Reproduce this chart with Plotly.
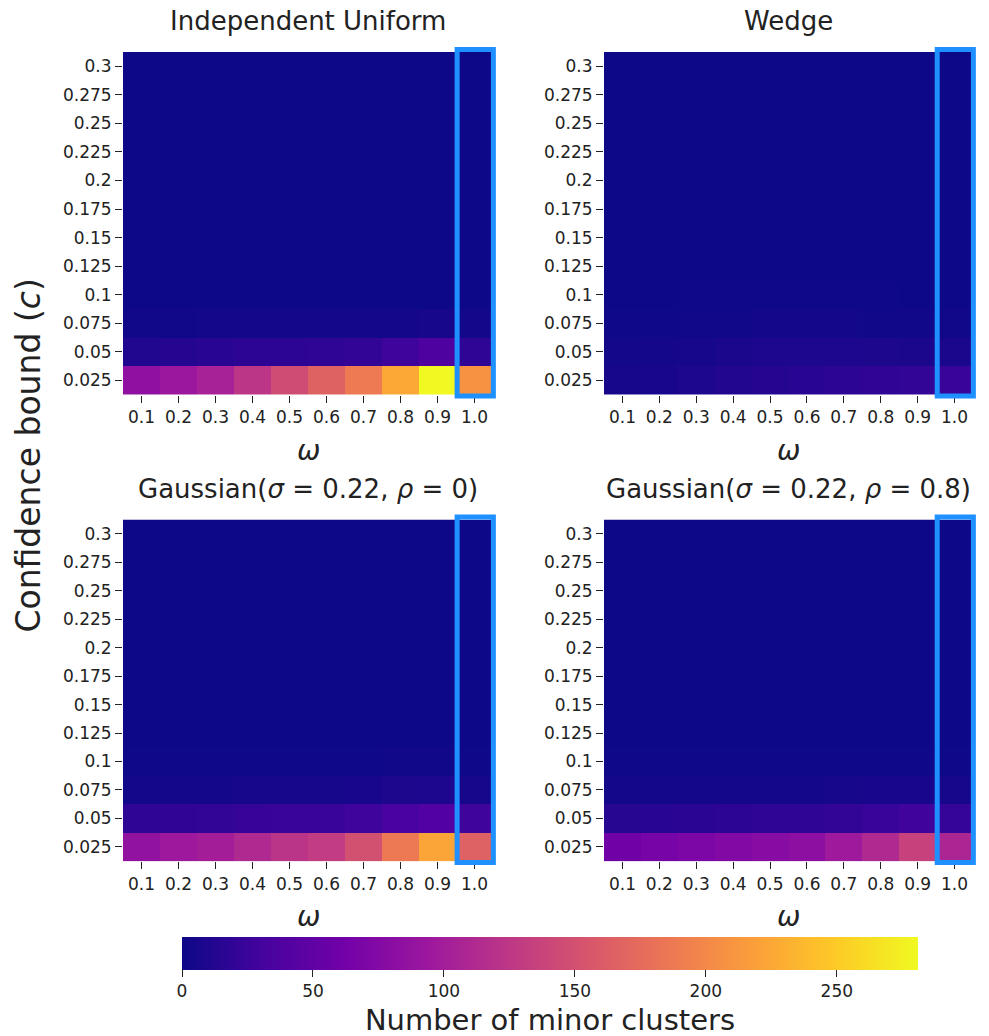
import plotly.graph_objects as go

# Grid axes
omega = [0.1, 0.2, 0.3, 0.4, 0.5, 0.6, 0.7, 0.8, 0.9, 1.0]
conf = [0.025, 0.05, 0.075, 0.1, 0.125, 0.15, 0.175, 0.2, 0.225, 0.25, 0.275, 0.3]
omega_labels = ["0.1", "0.2", "0.3", "0.4", "0.5", "0.6", "0.7", "0.8", "0.9", "1.0"]
conf_labels = ["0.025", "0.05", "0.075", "0.1", "0.125", "0.15", "0.175", "0.2",
               "0.225", "0.25", "0.275", "0.3"]

# Number of minor clusters, rows ordered from c=0.025 upward
indep_uniform = [
    [84, 93, 104, 124, 146, 166, 188, 225, 281, 208],
    [11, 13, 15, 17, 17, 18, 21, 27, 37, 18],
    [2, 2, 3, 3, 3, 3, 4, 4, 5, 3],
] + [[0] * 10 for _ in range(9)]

wedge = [
    [5, 6, 9, 12, 13, 15, 17, 19, 21, 24],
    [3, 4, 5, 7, 9, 9, 9, 8, 7, 7],
    [1, 1, 2, 2, 3, 3, 3, 2, 2, 2],
    [0, 0, 1, 1, 1, 1, 1, 1, 0, 0],
] + [[0] * 10 for _ in range(8)]

gauss_rho0 = [
    [86, 95, 100, 112, 122, 130, 150, 186, 222, 165],
    [18, 19, 21, 23, 24, 24, 27, 33, 40, 27],
    [3, 4, 4, 5, 5, 5, 6, 8, 9, 5],
    [1, 1, 1, 1, 1, 1, 1, 2, 2, 1],
] + [[0] * 10 for _ in range(8)]

gauss_rho08 = [
    [60, 66, 70, 74, 78, 82, 96, 112, 136, 108],
    [14, 15, 16, 17, 18, 18, 20, 24, 28, 22],
    [3, 3, 4, 4, 4, 4, 5, 6, 6, 5],
    [1, 1, 1, 1, 1, 1, 1, 1, 1, 1],
] + [[0] * 10 for _ in range(8)]

panels = [
    ("Independent Uniform", indep_uniform),
    ("Wedge", wedge),
    ("Gaussian(<i>σ</i> = 0.22, <i>ρ</i> = 0)", gauss_rho0),
    ("Gaussian(<i>σ</i> = 0.22, <i>ρ</i> = 0.8)", gauss_rho08),
]

W, H = 989, 1036
xdoms = [(123 / W, 493 / W), (604 / W, 973 / W)]
ydoms = [(1 - 395 / H, 1 - 52 / H), (1 - 862 / H, 1 - 520 / H)]

FONT = "DejaVu Sans"
TEXT = "#222222"
vmax = max(max(r) for _, d in panels for r in d)

fig = go.Figure()
annotations = []
shapes = []
nx, ny = len(omega), len(conf)
xi = list(range(nx))
yi = list(range(ny))


def to_paper(v, dom, n):
    # data index (cell centres at integers) -> paper fraction inside the domain
    return dom[0] + (v + 0.5) / n * (dom[1] - dom[0])


for k, (title, data) in enumerate(panels):
    row, col = divmod(k, 2)
    n = k + 1
    xa = "x" if n == 1 else f"x{n}"
    ya = "y" if n == 1 else f"y{n}"
    fig.add_trace(go.Heatmap(
        z=data, x=xi, y=yi, coloraxis="coloraxis",
        xaxis=xa, yaxis=ya, xgap=0, ygap=0,
        hovertemplate="ω=%{x}<br>c=%{y}<br>%{z}<extra></extra>",
    ))
    xd, yd = xdoms[col], ydoms[row]
    axx = dict(domain=list(xd), anchor=ya, range=[-0.5, nx - 0.5],
               tickmode="array", tickvals=xi, ticktext=omega_labels,
               ticks="outside", ticklen=7, tickwidth=1.2, tickcolor=TEXT,
               showgrid=False, zeroline=False, showline=False,
               tickfont=dict(family=FONT, size=17, color=TEXT))
    axy = dict(domain=list(yd), anchor=xa, range=[-0.5, ny - 0.5],
               tickmode="array", tickvals=yi, ticktext=conf_labels,
               ticks="outside", ticklen=7, tickwidth=1.2, tickcolor=TEXT,
               showgrid=False, zeroline=False, showline=False,
               tickfont=dict(family=FONT, size=17, color=TEXT))
    fig.update_layout(**{("xaxis" if n == 1 else f"xaxis{n}"): axx,
                         ("yaxis" if n == 1 else f"yaxis{n}"): axy})
    # panel title
    annotations.append(dict(text=title, x=(xd[0] + xd[1]) / 2, y=yd[1] + 0.013,
                            xref="paper", yref="paper", xanchor="center",
                            yanchor="bottom", showarrow=False,
                            font=dict(family=FONT, size=26, color=TEXT)))
    # omega axis label
    annotations.append(dict(text="<i>ω</i>", x=(xd[0] + xd[1]) / 2, y=yd[0] - 0.036,
                            xref="paper", yref="paper", xanchor="center",
                            yanchor="top", showarrow=False,
                            font=dict(family=FONT, size=28, color=TEXT)))
    # highlight the omega = 1.0 column (paper coords so the frame is not clipped)
    j = omega.index(1.0)
    shapes.append(dict(type="rect", xref="paper", yref="paper",
                       x0=to_paper(j - 0.47, xd, nx), x1=to_paper(j + 0.51, xd, nx),
                       y0=to_paper(-0.55, yd, ny), y1=to_paper(ny - 0.41, yd, ny),
                       line=dict(color="#1e90ff", width=5), fillcolor="rgba(0,0,0,0)",
                       layer="above"))

annotations.append(dict(text="Confidence bound (<i>c</i>)", x=29 / W, y=1 - 456 / H,
                        xref="paper", yref="paper", xanchor="center", yanchor="middle",
                        textangle=-90, showarrow=False,
                        font=dict(family=FONT, size=33, color=TEXT)))

fig.update_layout(
    width=W, height=H,
    margin=dict(l=0, r=0, t=0, b=0),
    paper_bgcolor="white", plot_bgcolor="white",
    annotations=annotations, shapes=shapes,
    coloraxis=dict(
        colorscale="Plasma", cmin=0, cmax=vmax,
        colorbar=dict(
            orientation="h", x=550 / W, xanchor="center", y=1 - 937 / H, yanchor="top",
            len=736 / W, lenmode="fraction", thickness=33, outlinewidth=0,
            xpad=0, ypad=0, ticks="outside", ticklen=7, tickwidth=1.2, tickcolor=TEXT,
            tickvals=[0, 50, 100, 150, 200, 250],
            tickfont=dict(family=FONT, size=17, color=TEXT),
            title=dict(text="Number of minor clusters", side="bottom",
                       font=dict(family=FONT, size=29, color=TEXT)),
        ),
    ),
)

fig.write_html("out.html")
